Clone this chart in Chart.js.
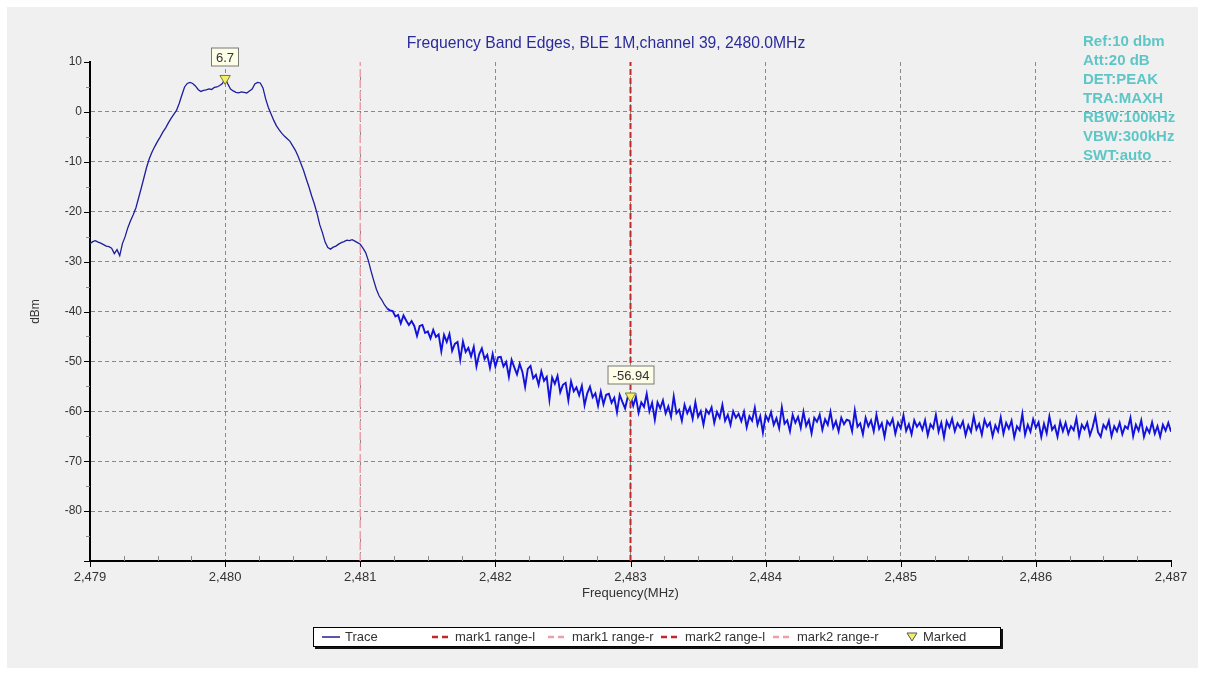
<!DOCTYPE html>
<html>
<head>
<meta charset="utf-8">
<script src="https://cdn.jsdelivr.net/npm/chart.js@4.4.1/dist/chart.umd.min.js"></script>
<style>
  html, body { margin: 0; padding: 0; background: #fff; }
  body { width: 1206px; height: 675px; position: relative; overflow: hidden;
         font-family: Arial, "Liberation Sans", sans-serif; }
  #panel { position: absolute; left: 7px; top: 7px; width: 1191px; height: 661px; background: #f0f0f0; }
  #panel canvas { position: absolute; left: 0; top: 0; }
  #legend { position: absolute; left: 306px; top: 620px; width: 686px; height: 18px;
            background: #fff; border: 1px solid #000; box-shadow: 2px 2px 0 #111;
            font-size: 13px; color: #333; }
  #legend svg, #legend span { position: absolute; }
  #legend span { top: 0; line-height: 18px; white-space: nowrap; }
  #legend svg { top: 6px; }
</style>
</head>
<body>
<div id="panel">
  <canvas id="bandEdge" width="1191" height="661"></canvas>
  <div id="legend"></div>
</div>
<script>
// Sweep grid of the analyzer trace
const sweepStart = 2479;   // MHz
const sweepStep = 0.02;    // MHz per point

// Trace, main lobe and upper skirt (dBm)
const lobeDbm = [
  -26.4, -26.0, -25.8, -26.1, -26.3, -26.6, -26.9, -27.0, -27.3, -28.4, -27.6, -28.8,
  -26.4, -25.0, -23.2, -21.8, -20.6, -19.2, -17.2, -15.2, -13.1, -11.0,
  -9.3, -8.0, -6.9, -5.9, -5.0, -4.0, -3.2, -2.2, -1.3, -0.5,
  0.3, 1.7, 3.4, 5.0, 5.7, 5.9, 5.7, 5.2, 4.5, 4.1,
  4.3, 4.4, 4.6, 4.5, 4.9, 5.0, 5.3, 5.7,
  6.7, 5.6, 4.6, 4.2, 3.9, 3.8, 4.0, 3.9, 3.8, 4.2,
  4.6, 5.6, 5.9, 5.8, 4.8, 2.6, 0.9, -0.4, -1.7, -2.8,
  -3.6, -4.3, -4.9, -5.4, -5.9, -6.8, -7.7, -8.9, -10.3, -11.7,
  -13.4, -15.0, -16.8, -18.4, -20.3, -22.6, -24.2, -26.1, -27.2, -27.5,
  -27.1, -26.9, -26.5, -26.2, -26.0, -25.7, -25.8, -25.6, -25.9, -26.2,
  -26.5, -27.3, -28.2, -29.8, -31.9, -33.8, -35.6, -36.9, -37.7, -38.7, -39.4, -39.8
];
const skirtDbm = [
  -39.9, -41.0, -40.7, -42.4, -40.8, -41.8, -42.7, -41.9,
  -42.9, -44.9, -42.9, -42.7, -44.3, -44.0, -45.4, -43.7, -45.1, -44.6,
  -48.0, -44.7, -46.1, -44.5, -47.9, -46.5, -46.1, -49.7, -46.0, -48.1,
  -47.3, -49.0, -47.1, -51.0, -48.6, -47.4, -49.5, -48.7, -51.3, -48.5,
  -51.0, -49.2, -49.1, -51.0, -50.1, -53.1, -49.7, -51.2, -52.6, -50.5,
  -52.1, -55.1, -51.5, -50.9, -53.4, -52.7, -54.7, -52.0, -53.9, -53.1,
  -57.7, -53.2, -54.5, -52.9, -56.2, -54.7, -54.3, -57.8, -54.0, -56.0,
  -55.2, -56.8, -54.9, -58.8, -56.4, -55.1, -57.2, -56.4, -58.9, -56.1,
  -58.6, -56.7, -56.5, -58.3, -57.3, -60.2, -56.7, -58.1, -59.4, -57.1,
  -56.94, -58.9, -57.1, -60.3, -58.2, -59.1, -56.5, -60.0, -58.3, -61.7,
  -58.2, -59.4, -57.8, -60.4, -59.0, -61.1, -57.0, -60.4, -59.7, -61.9,
  -58.7, -60.4, -59.2, -61.5, -58.2, -61.1, -60.0, -62.7, -59.7, -60.5,
  -59.2, -62.3, -60.1, -61.3, -58.7, -61.9, -60.7, -62.7, -60.0, -61.3,
  -60.5, -62.0, -60.1, -63.2, -61.0, -61.9, -59.3, -62.7, -61.0, -64.3,
  -60.8, -61.9, -60.2, -62.7, -61.4, -63.4, -59.2, -62.5, -61.8, -64.0,
  -60.7, -62.3, -61.1, -63.3, -60.1, -62.9, -61.7, -64.4, -61.3, -62.1,
  -60.7, -63.7, -61.6, -62.7, -60.1, -63.3, -62.0, -64.0, -61.3, -62.6,
  -61.7, -61.9, -64.0, -59.8, -63.1, -62.4, -64.6, -61.3, -63.0, -61.8,
  -64.0, -60.7, -63.5, -62.4, -65.1, -62.0, -62.8, -61.5, -64.5, -62.3,
  -63.4, -60.8, -63.9, -62.6, -64.6, -61.8, -63.1, -62.3, -63.7, -61.8,
  -64.8, -62.6, -63.4, -60.7, -64.1, -62.3, -65.2, -62.0, -63.2, -61.5,
  -64.0, -62.4, -63.3, -62.0, -64.8, -62.8, -64.1, -61.0, -63.6, -62.5,
  -64.7, -61.7, -63.1, -62.3, -65.0, -62.8, -64.0, -61.2, -64.5, -62.3,
  -63.5, -61.9, -65.2, -63.0, -63.8, -60.5, -64.7, -62.7, -64.1, -61.6,
  -63.3, -62.2, -65.1, -62.5, -64.4, -61.0, -63.7, -62.9, -65.1, -62.1,
  -64.0, -62.3, -64.5, -63.0, -63.8, -61.4, -65.0, -62.7, -63.6, -62.3,
  -64.8, -63.2, -60.9, -64.2, -65.1, -62.7, -63.5, -61.9, -65.0, -63.0,
  -64.0, -62.3, -64.6, -63.0, -63.5, -61.3, -65.0, -62.7, -63.9, -61.8,
  -65.1, -63.3, -64.3, -62.2, -64.5, -63.0, -65.1, -62.7, -63.9, -62.3, -64.1
];

// Markers
const markerFreqs = [2480.0, 2483.0];
const markerDbm = [6.7, -56.94];
const markerLabels = ['6.7', '-56.94'];

// Band edge range lines (MHz)
const mark1RangeR = 2481.0;
const mark2RangeL = 2483.0;

// Axis ranges
const freqMin = 2479, freqMax = 2487;
const dbmMin = -90, dbmMax = 10;

const infoLines = ['Ref:10 dbm', 'Att:20 dB', 'DET:PEAK', 'TRA:MAXH', 'RBW:100kHz', 'VBW:300kHz', 'SWT:auto'];

const FONT = 'Arial, "Liberation Sans", sans-serif';
const TRACE_DARK = '#1e1e9a';
const TRACE_NOISE = '#1212dc';
const MARK_L = '#c0282a';
const MARK_R = '#ec9eaa';

const traceDbm = lobeDbm.concat(skirtDbm);
const tracePoints = traceDbm.map((v, i) => ({ x: +(sweepStart + i * sweepStep).toFixed(3), y: v }));

const isWhole = v => Math.abs(v - Math.round(v)) < 1e-6;
const isTen = v => Math.abs(v / 10 - Math.round(v / 10)) < 1e-6;

function vline(freq) {
    return [{ x: freq, y: dbmMin }, { x: freq, y: dbmMax }];
}

// Ticks, title, info block and marker call-outs
const overlay = {
    id: 'overlay',
    afterDatasetsDraw(chart) {
        const { ctx } = chart;
        const meta = chart.getDatasetMeta(5);
        ctx.save();
        ctx.font = '13px ' + FONT;
        ctx.textAlign = 'center';
        ctx.textBaseline = 'middle';
        meta.data.forEach((pt, i) => {
            const text = markerLabels[i];
            const w = Math.round(ctx.measureText(text).width) + 10;
            const h = 19;
            const cx = Math.round(pt.x);
            const cy = Math.round(pt.y) - 21;
            ctx.fillStyle = '#fdfde8';
            ctx.fillRect(cx - w / 2, cy - h / 2, w, h);
            ctx.strokeStyle = '#777';
            ctx.lineWidth = 1;
            ctx.strokeRect(cx - w / 2 + 0.5, cy - h / 2 + 0.5, w - 1, h - 1);
            ctx.fillStyle = '#333';
            ctx.fillText(text, cx, cy + 1);
        });
        ctx.restore();
    },
    afterDraw(chart) {
        const { ctx, chartArea: a, scales: { x, y } } = chart;
        ctx.save();
        ctx.lineWidth = 1;
        x.ticks.forEach(t => {
            const px = Math.round(x.getPixelForValue(t.value)) + 0.5;
            ctx.beginPath();
            if (isWhole(t.value)) {
                ctx.strokeStyle = '#000';
                ctx.moveTo(px, a.bottom);
                ctx.lineTo(px, a.bottom + 6);
            } else {
                ctx.strokeStyle = '#8a8a8a';
                ctx.moveTo(px, a.bottom);
                ctx.lineTo(px, a.bottom - 5);
            }
            ctx.stroke();
        });
        y.ticks.forEach(t => {
            const py = Math.round(y.getPixelForValue(t.value)) + 0.5;
            ctx.beginPath();
            ctx.strokeStyle = isTen(t.value) ? '#000' : '#8a8a8a';
            ctx.moveTo(a.left, py);
            ctx.lineTo(a.left - (isTen(t.value) ? 6 : 4), py);
            ctx.stroke();
        });

        ctx.font = '15.7px ' + FONT;
        ctx.fillStyle = '#2b2b9c';
        ctx.textAlign = 'center';
        ctx.textBaseline = 'middle';
        ctx.fillText('Frequency Band Edges, BLE 1M,channel 39, 2480.0MHz', 599, 37);

        ctx.font = 'bold 15px ' + FONT;
        ctx.fillStyle = '#5ec6c6';
        ctx.textAlign = 'left';
        infoLines.forEach((line, i) => ctx.fillText(line, 1076, 35 + i * 19));
        ctx.restore();
    }
};

const ctx = document.getElementById('bandEdge').getContext('2d');
new Chart(ctx, {
    type: 'line',
    data: {
        datasets: [
            {
                label: 'Trace',
                data: tracePoints,
                borderColor: TRACE_DARK,
                borderWidth: 1.3,
                pointRadius: 0,
                tension: 0,
                order: 1,
                segment: {
                    borderColor: c => c.p0.parsed.x >= 2481.2 ? TRACE_NOISE : TRACE_DARK,
                    borderWidth: c => c.p0.parsed.x >= 2481.2 ? 1.9 : 1.3
                }
            },
            { label: 'mark1 range-l', data: [], borderColor: MARK_L, borderDash: [6, 3], borderWidth: 2, pointRadius: 0, order: 3 },
            { label: 'mark1 range-r', data: vline(mark1RangeR), borderColor: MARK_R, borderDash: [8, 3], borderWidth: 1.5, pointRadius: 0, order: 3 },
            { label: 'mark2 range-l', data: vline(mark2RangeL), borderColor: MARK_L, borderDash: [6, 3], borderWidth: 2, pointRadius: 0, order: 3 },
            { label: 'mark2 range-r', data: [], borderColor: MARK_R, borderDash: [8, 3], borderWidth: 1.5, pointRadius: 0, order: 3 },
            {
                label: 'Marked',
                data: markerFreqs.map((f, i) => ({ x: f, y: markerDbm[i] })),
                showLine: false,
                pointStyle: 'triangle',
                rotation: 180,
                pointRadius: 6,
                pointBackgroundColor: '#f2f06a',
                pointBorderColor: '#7a7a22',
                pointBorderWidth: 1,
                order: 0
            }
        ]
    },
    options: {
        responsive: false,
        animation: false,
        events: [],
        layout: { padding: { left: 0, right: 27, top: 55, bottom: 62 } },
        scales: {
            x: {
                type: 'linear',
                min: freqMin,
                max: freqMax,
                afterFit: s => { s.height = 45; },
                ticks: {
                    stepSize: 0.25,
                    autoSkip: false,
                    maxRotation: 0,
                    padding: 9,
                    color: '#333',
                    font: { family: FONT, size: 13 },
                    callback: v => isWhole(v) ? Math.round(v).toLocaleString('en-US') : ''
                },
                grid: {
                    drawTicks: false,
                    lineWidth: 1,
                    color: c => (isWhole(c.tick.value) && c.tick.value > freqMin && c.tick.value < freqMax) ? 'rgba(120,120,120,0.85)' : 'rgba(0,0,0,0)'
                },
                border: { display: true, color: '#000', width: 2, dash: [4, 3] },
                title: {
                    display: true,
                    text: 'Frequency(MHz)',
                    color: '#333',
                    font: { family: FONT, size: 13 },
                    padding: { top: 0, bottom: 5 }
                }
            },
            y: {
                type: 'linear',
                min: dbmMin,
                max: dbmMax,
                afterFit: s => { s.width = 83; },
                ticks: {
                    stepSize: 5,
                    autoSkip: false,
                    padding: 8,
                    color: '#333',
                    font: { family: FONT, size: 12 },
                    callback: v => (isTen(v) && v > dbmMin) ? String(v) : ''
                },
                grid: {
                    drawTicks: false,
                    lineWidth: 1,
                    color: c => (isTen(c.tick.value) && c.tick.value > dbmMin && c.tick.value < dbmMax) ? 'rgba(120,120,120,0.85)' : 'rgba(0,0,0,0)'
                },
                border: { display: true, color: '#000', width: 2, dash: [4, 3] },
                title: {
                    display: true,
                    text: 'dBm',
                    color: '#333',
                    font: { family: FONT, size: 12 },
                    padding: { top: 21, bottom: 0 }
                }
            }
        },
        plugins: {
            legend: { display: false },
            tooltip: { enabled: false },
            title: { display: false }
        }
    },
    plugins: [overlay]
});

// Legend box under the plot
const legendItems = [
    { label: 'Trace', kind: 'solid', color: TRACE_DARK, icon: 8, text: 31 },
    { label: 'mark1 range-l', kind: 'dash', color: MARK_L, icon: 118, text: 141 },
    { label: 'mark1 range-r', kind: 'dash', color: MARK_R, icon: 234, text: 258 },
    { label: 'mark2 range-l', kind: 'dash', color: MARK_L, icon: 347, text: 371 },
    { label: 'mark2 range-r', kind: 'dash', color: MARK_R, icon: 459, text: 483 },
    { label: 'Marked', kind: 'tri', color: '#f2f06a', icon: 592, text: 609 }
];
const legendEl = document.getElementById('legend');
legendItems.forEach(it => {
    let svg;
    if (it.kind === 'solid') {
        svg = `<svg width="18" height="6" style="left:${it.icon}px"><line x1="0" y1="3" x2="18" y2="3" stroke="${it.color}" stroke-width="1.5"/></svg>`;
    } else if (it.kind === 'dash') {
        svg = `<svg width="17" height="6" style="left:${it.icon}px"><line x1="0" y1="3" x2="17" y2="3" stroke="${it.color}" stroke-width="2.5" stroke-dasharray="6 4"/></svg>`;
    } else {
        svg = `<svg width="12" height="10" style="left:${it.icon}px;top:4px"><polygon points="1,1 11,1 6,9" fill="${it.color}" stroke="#555" stroke-width="1"/></svg>`;
    }
    legendEl.insertAdjacentHTML('beforeend', svg + `<span style="left:${it.text}px">${it.label}</span>`);
});
</script>
</body>
</html>
